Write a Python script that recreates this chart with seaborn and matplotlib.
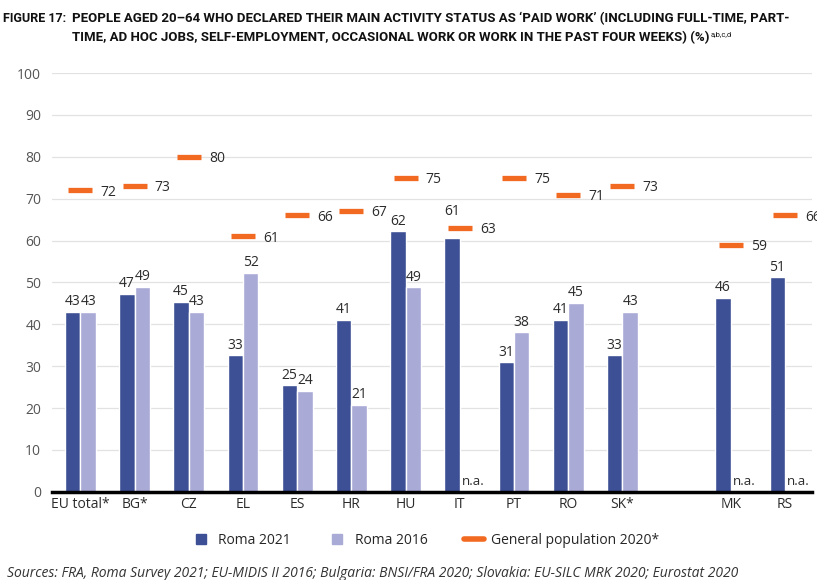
import matplotlib
matplotlib.use("Agg")
import matplotlib.pyplot as plt
from matplotlib.lines import Line2D
import numpy as np
import pandas as pd
import seaborn as sns

sns.set_theme(style="whitegrid")
plt.rcParams["font.family"] = ["Open Sans", "DejaVu Sans"]

# Values (one empty slot between SK* and MK)
countries = ["EU total*", "BG*", "CZ", "EL", "ES", "HR", "HU", "IT", "PT", "RO", "SK*", " ", "MK", "RS"]
roma_2021 = [43.0, 47.3, 45.3, 32.6, 25.4, 41.0, 62.2, 60.6, 30.9, 41.0, 32.6, np.nan, 46.3, 51.2]
roma_2016 = [43.0, 48.9, 43.0, 52.2, 24.2, 20.8, 48.8, np.nan, 38.1, 45.1, 43.0, np.nan, np.nan, np.nan]
general_2020 = [72, 73, 80, 61, 66, 67, 75, 63, 75, 71, 73, np.nan, 59, 66]

dark_blue = "#3d4f95"
light_blue = "#a9aad6"
orange = "#f26a21"
text_col = "#2b2b2b"

df = pd.DataFrame({
    "country": countries * 2,
    "value": roma_2021 + roma_2016,
    "series": ["Roma 2021"] * len(countries) + ["Roma 2016"] * len(countries),
})

fig = plt.figure(figsize=(8.17, 5.8), dpi=100)
ax = fig.add_axes([0.064, 0.152, 0.93, 0.722])

# Roma bars
bar_width = 0.57
sns.barplot(data=df, x="country", y="value", hue="series", order=countries,
            hue_order=["Roma 2021", "Roma 2016"], palette=[dark_blue, light_blue],
            width=bar_width, saturation=1, errorbar=None, legend=False, ax=ax)

for cont in ax.containers:
    anns = ax.bar_label(cont, fmt="%.0f", padding=2, fontsize=10, color=text_col)
    # lift a label that would run into the orange dash just above its bar
    for ann, val in zip(anns, cont.datavalues):
        gaps = [g - val for g in general_2020 if not np.isnan(g)]
        if any(0 < gap < 4 for gap in gaps) and val in roma_2021:
            i = roma_2021.index(val)
            if 0 < general_2020[i] - val < 4:
                ann.xyann = (0, 14)

# n.a. where Roma 2016 is missing
for i, (a, b) in enumerate(zip(roma_2021, roma_2016)):
    if not np.isnan(a) and np.isnan(b):
        ax.text(i + 0.24, 1, "n.a.", ha="center", va="bottom", fontsize=9.5, color=text_col)

# General population dashes
pos = np.arange(len(countries))
sns.scatterplot(x=pos, y=general_2020, marker="_", s=300, color=orange,
                linewidth=3.8, legend=False, ax=ax, zorder=3)
for i, g in enumerate(general_2020):
    if not np.isnan(g):
        ax.text(i + 0.37, g - 0.4, f"{g:.0f}", ha="left", va="center",
                fontsize=10, color=text_col, clip_on=False)

# Axes styling
ax.set_xlim(-0.52, 13.5)
ax.set_ylim(0, 100)
ax.set_yticks(range(0, 101, 10))
ax.set_xlabel("")
ax.set_ylabel("")
ax.grid(axis="y", color="#e2e2e2", linewidth=0.9)
ax.grid(axis="x", visible=False)
sns.despine(ax=ax, left=True)
ax.spines["bottom"].set_color("black")
ax.spines["bottom"].set_linewidth(2.5)
ax.tick_params(axis="y", labelsize=10, labelcolor="#555555", length=0, pad=8)
ax.tick_params(axis="x", labelsize=10, labelcolor=text_col, length=0, pad=4)

# Legend below the plot
handles = [
    Line2D([], [], marker="s", linestyle="none", markersize=7, color=dark_blue, label="Roma 2021"),
    Line2D([], [], marker="s", linestyle="none", markersize=7, color=light_blue, label="Roma 2016"),
    Line2D([], [], color=orange, linewidth=4, label="General population 2020*"),
]
fig.legend(handles=handles, loc="center", bbox_to_anchor=(0.52, 0.068), ncol=3,
           frameon=False, fontsize=10, handlelength=1.5,
           columnspacing=2.6, handletextpad=0.5)

# Title and source
title_font = ["Roboto", "DejaVu Sans"]
fig.text(0.004, 0.968, "FIGURE 17:", fontsize=9, fontweight="bold",
         family=title_font, color="#111111", va="center")
fig.text(0.088, 0.968,
         "PEOPLE AGED 20\u201364 WHO DECLARED THEIR MAIN ACTIVITY STATUS AS \u2018PAID WORK\u2019 (INCLUDING FULL-TIME, PART-",
         fontsize=9.5, fontweight="bold", family=title_font, color="#111111", va="center")
line2 = fig.text(0.088, 0.935,
                 "TIME, AD HOC JOBS, SELF-EMPLOYMENT, OCCASIONAL WORK OR WORK IN THE PAST FOUR WEEKS) (%)",
                 fontsize=9.5, fontweight="bold", family=title_font, color="#111111", va="center")
ax.annotate("a,b,c,d", xy=(1, 0.75), xycoords=line2, xytext=(1, 0), textcoords="offset points",
            fontsize=5.5, family=title_font, color="#111111", va="center", ha="left")

fig.text(0.008, 0.012,
         "Sources: FRA, Roma Survey 2021; EU-MIDIS II 2016; Bulgaria: BNSI/FRA 2020; Slovakia: EU-SILC MRK 2020; Eurostat 2020",
         fontsize=10, style="italic", color="#333333", va="center")

fig.savefig("out.png", dpi=100)
